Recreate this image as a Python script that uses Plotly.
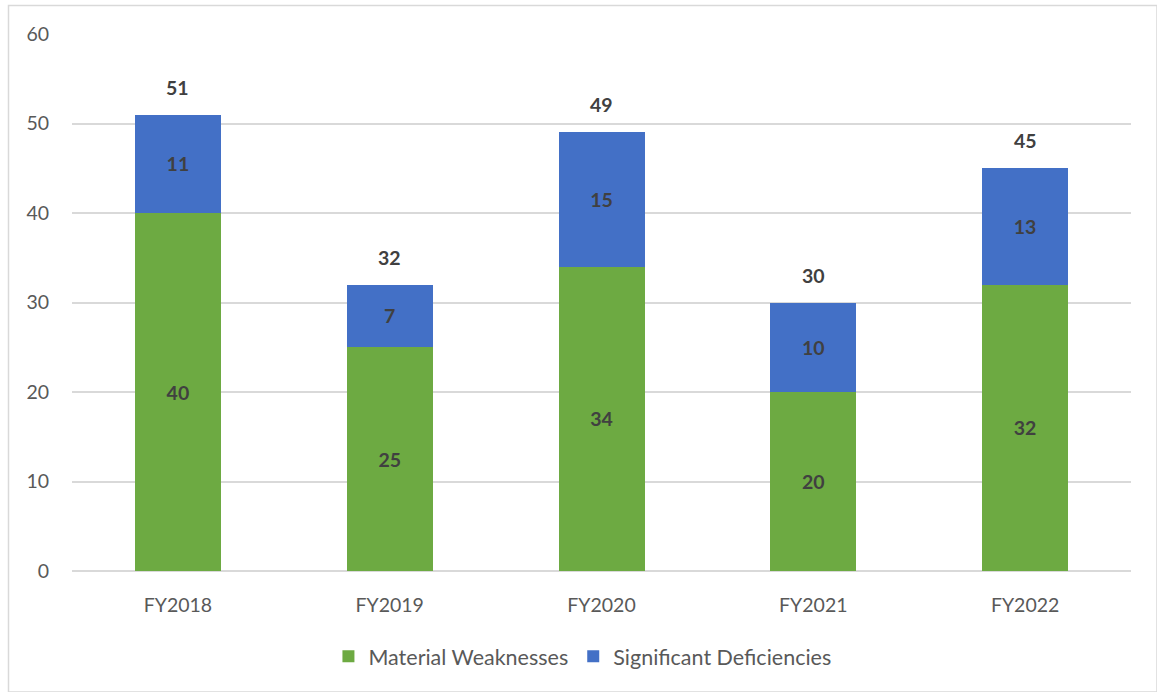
import plotly.graph_objects as go

categories = ["FY2018", "FY2019", "FY2020", "FY2021", "FY2022"]
material_weaknesses = [40, 25, 34, 20, 32]
significant_deficiencies = [11, 7, 15, 10, 13]
totals = [m + s for m, s in zip(material_weaknesses, significant_deficiencies)]
y_ticks = [0, 10, 20, 30, 40, 50, 60]

FONT = "Lato, 'Open Sans', sans-serif"
LABEL = dict(family=FONT, size=19.5, color="#404040")
TICK = dict(family=FONT, size=19.5, color="#595959")

fig = go.Figure()
fig.add_trace(go.Bar(
    name="Material Weaknesses", x=categories, y=material_weaknesses,
    marker=dict(color="#6DAA42", line=dict(width=0)),
    text=[f"<b>{v}</b>" for v in material_weaknesses], textposition="inside",
    insidetextanchor="middle", textfont=LABEL, textangle=0,
))
fig.add_trace(go.Bar(
    name="Significant Deficiencies", x=categories, y=significant_deficiencies,
    marker=dict(color="#4370C6", line=dict(width=0)),
    text=[f"<b>{v}</b>" for v in significant_deficiencies], textposition="inside",
    insidetextanchor="middle", textfont=LABEL, textangle=0,
))
for c, t in zip(categories, totals):
    fig.add_annotation(x=c, y=t, text=f"<b>{t}</b>", showarrow=False,
                       yanchor="bottom", yshift=14, font=LABEL)

W, H = 1157, 692
ml, mr, mt, mb = 72, 26, 34, 121
pw, ph = W - ml - mr, H - mt - mb
fig.add_shape(type="rect", xref="paper", yref="paper",
              x0=(8.5 - ml) / pw, x1=(1157 - ml) / pw,
              y0=(H - mb - 692) / ph, y1=(H - mb - 5.5) / ph,
              line=dict(color="#d9d9d9", width=1.5), fillcolor="rgba(0,0,0,0)", layer="below")

fig.update_layout(
    width=W, height=H, barmode="stack", bargap=0.594,
    margin=dict(l=ml, r=mr, t=mt, b=mb),
    paper_bgcolor="white", plot_bgcolor="white",
    font=dict(family=FONT, size=19.5, color="#595959"),
    legend=dict(orientation="h", x=0.482, xanchor="center", y=-0.159, yanchor="middle",
                font=dict(family=FONT, size=21.5, color="#595959"),
                itemwidth=30, traceorder="normal"),
    xaxis=dict(showgrid=False, showline=False, ticks="", ticklabelstandoff=20,
               tickfont=TICK),
    yaxis=dict(range=[0, 60], tickvals=y_ticks, showgrid=True, gridcolor="#d9d9d9",
               gridwidth=1.5, zeroline=True, zerolinecolor="#d9d9d9", zerolinewidth=1.5,
               showline=False, ticks="", ticklabelstandoff=22,
               tickfont=TICK),
)

fig.write_html("out.html", config={"displayModeBar": False},
               post_script="document.body.style.margin='0';document.body.style.overflow='hidden';")
